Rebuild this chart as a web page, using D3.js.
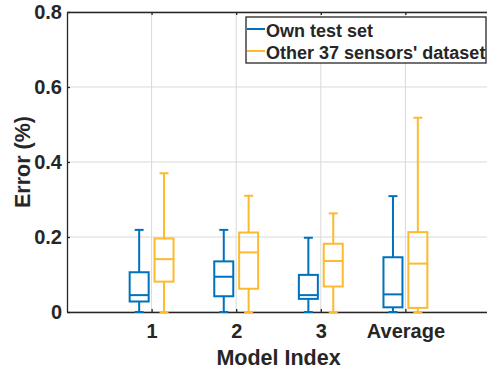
<!DOCTYPE html>
<html>
<head>
<meta charset="utf-8">
<script src="https://cdn.jsdelivr.net/npm/d3@7"></script>
<style>
  html, body { margin: 0; padding: 0; background: #fff; }
  svg { display: block; }
  text { font-family: "Liberation Sans", Arial, Helvetica, sans-serif; font-weight: bold; fill: #262626; }
</style>
</head>
<body>
<div id="chart"></div>
<script>
// Model categories along the x axis
const categories = ["1", "2", "3", "Average"];
const yTicks = [0, 0.2, 0.4, 0.6, 0.8];
const seriesNames = ["Own test set", "Other 37 sensors' dataset"];

// Box statistics (error, %) per model: lower whisker, Q1, median, Q3, upper whisker
const ownLow    = [0, 0, 0, 0];
const ownQ1     = [0.028, 0.042, 0.035, 0.0125];
const ownMedian = [0.045, 0.094, 0.045, 0.047];
const ownQ3     = [0.106, 0.135, 0.099, 0.146];
const ownHigh   = [0.219, 0.219, 0.198, 0.309];

const otherLow    = [0, 0, 0, 0];
const otherQ1     = [0.081, 0.062, 0.068, 0.011];
const otherMedian = [0.141, 0.159, 0.136, 0.129];
const otherQ3     = [0.196, 0.212, 0.182, 0.213];
const otherHigh   = [0.370, 0.310, 0.263, 0.518];

const colors = ["#0072BD", "#FDBA2F"];

const W = 487, H = 373;
const margin = { left: 67, top: 12, right: -3, bottom: 61 };
const svg = d3.select("#chart").append("svg").attr("width", W).attr("height", H);

const x = d3.scaleLinear().domain([0, 5]).range([margin.left, W - margin.right]);
const y = d3.scaleLinear().domain([0, 0.8]).range([H - margin.bottom, margin.top]);

const positions = categories.map((c, i) => i + 1);
const offset = 0.147; // half-spacing between paired boxes, in category units
const boxW = 19, capW = 9;

// grid
const grid = svg.append("g").attr("stroke", "#d9d9d9").attr("stroke-width", 1);
yTicks.forEach(t => grid.append("line")
  .attr("x1", x(0)).attr("x2", x(5)).attr("y1", y(t)).attr("y2", y(t)));
positions.forEach(p => grid.append("line")
  .attr("x1", x(p)).attr("x2", x(p)).attr("y1", y(0)).attr("y2", y(0.8)));

// axes
const yAxis = d3.axisLeft(y).tickValues(yTicks).tickFormat(d => d === 0 ? "0" : d3.format(".1f")(d))
  .tickSizeInner(-3).tickSizeOuter(0).tickPadding(5);
const xAxis = d3.axisBottom(x).tickValues(positions).tickFormat((d, i) => categories[i])
  .tickSizeInner(-3).tickSizeOuter(0).tickPadding(11.5);
const xTop = d3.axisTop(x).tickValues(positions).tickFormat("").tickSizeInner(-3).tickSizeOuter(0);

function styleAxis(g) {
  g.select(".domain").attr("stroke", "#262626").attr("stroke-width", 1.3);
  g.selectAll(".tick line").attr("stroke", "#262626").attr("stroke-width", 1.3);
  g.selectAll(".tick text").attr("font-size", 20).attr("fill", "#262626")
    .attr("font-family", "Liberation Sans, Arial, sans-serif").attr("font-weight", "bold");
}
svg.append("g").attr("transform", `translate(${margin.left},0)`).call(yAxis).call(styleAxis);
svg.append("g").attr("transform", `translate(0,${y(0)})`).call(xAxis).call(styleAxis);
svg.append("g").attr("transform", `translate(0,${y(0.8)})`).call(xTop).call(styleAxis);

// boxes
const series = [
  { low: ownLow, q1: ownQ1, med: ownMedian, q3: ownQ3, high: ownHigh, dx: -offset, color: colors[0] },
  { low: otherLow, q1: otherQ1, med: otherMedian, q3: otherQ3, high: otherHigh, dx: offset, color: colors[1] }
];
series.forEach(s => {
  const g = svg.append("g").attr("stroke", s.color).attr("stroke-width", 2).attr("fill", "none");
  positions.forEach((p, i) => {
    const cx = x(p + s.dx);
    // whiskers
    g.append("line").attr("x1", cx).attr("x2", cx).attr("y1", y(s.q3[i])).attr("y2", y(s.high[i]));
    g.append("line").attr("x1", cx).attr("x2", cx).attr("y1", y(s.q1[i])).attr("y2", y(s.low[i]));
    g.append("line").attr("x1", cx - capW / 2).attr("x2", cx + capW / 2).attr("y1", y(s.high[i])).attr("y2", y(s.high[i]));
    g.append("line").attr("x1", cx - capW / 2).attr("x2", cx + capW / 2).attr("y1", y(s.low[i])).attr("y2", y(s.low[i]));
    // box
    g.append("rect").attr("x", cx - boxW / 2).attr("width", boxW)
      .attr("y", y(s.q3[i])).attr("height", y(s.q1[i]) - y(s.q3[i]));
    // median
    g.append("line").attr("x1", cx - boxW / 2).attr("x2", cx + boxW / 2).attr("y1", y(s.med[i])).attr("y2", y(s.med[i]));
  });
});

// axis titles
svg.append("text").attr("x", x(2.5)).attr("y", 365).attr("text-anchor", "middle")
  .attr("font-size", 21.5).text("Model Index");
svg.append("text").attr("transform", `translate(30,${y(0.4)}) rotate(-90)`).attr("text-anchor", "middle")
  .attr("font-size", 21.5).text("Error (%)");

// legend
const lg = svg.append("g").attr("transform", "translate(246,17)");
lg.append("rect").attr("width", 240).attr("height", 46).attr("fill", "#fff")
  .attr("stroke", "#262626").attr("stroke-width", 1.3);
seriesNames.forEach((n, i) => {
  const yy = 12 + i * 22;
  lg.append("line").attr("x1", 1).attr("x2", 19).attr("y1", yy).attr("y2", yy)
    .attr("stroke", colors[i]).attr("stroke-width", 2);
  lg.append("text").attr("x", 20).attr("y", yy + 7.5).attr("font-size", 18).attr("fill", "#000").text(n);
});
</script>
</body>
</html>
